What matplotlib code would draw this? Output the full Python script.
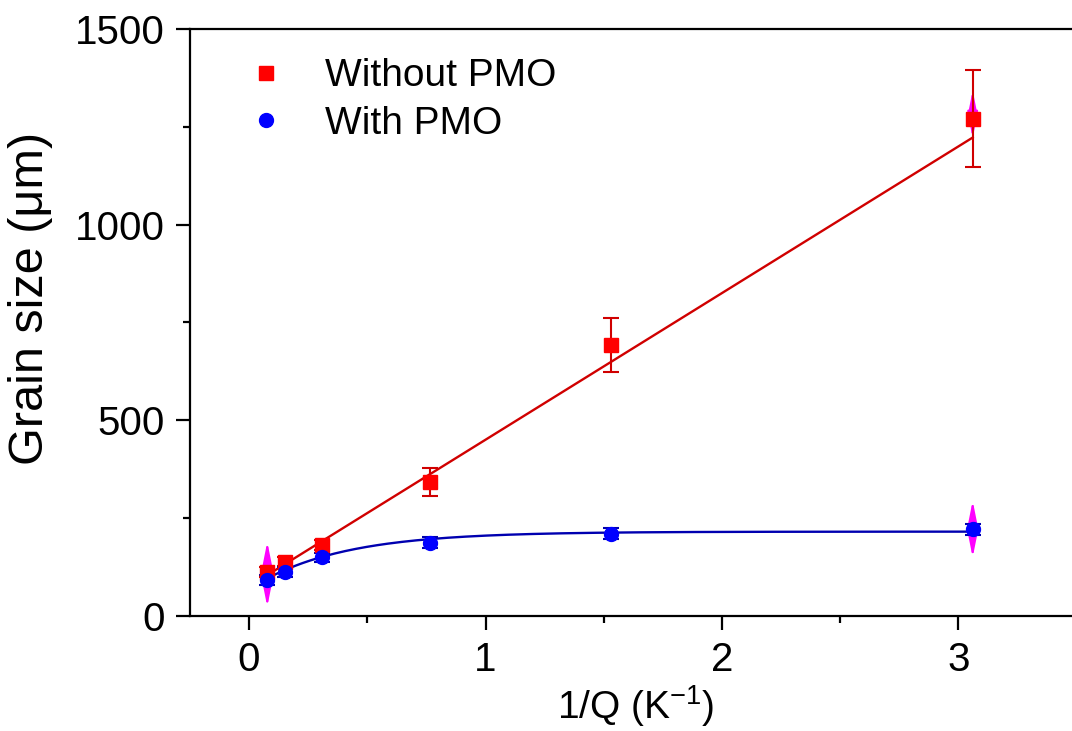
import numpy as np
import matplotlib
matplotlib.use("Agg")
import matplotlib.pyplot as plt
from matplotlib.ticker import MultipleLocator

plt.rcParams['font.family'] = ['Liberation Sans', 'DejaVu Sans']
plt.rcParams['mathtext.fontset'] = 'custom'
plt.rcParams['mathtext.rm'] = 'Liberation Sans'
plt.rcParams['mathtext.default'] = 'regular'

# data
inv_q = [0.077, 0.154, 0.307, 0.767, 1.53, 3.06]
without_pmo = [112, 138, 181, 342, 692, 1271]
without_err = [12, 12, 12, 35, 70, 125]
with_pmo = [91, 112, 149, 186, 209, 221]
with_err = [12, 12, 12, 14, 14, 14]

# fitted curves
lin_intercept, lin_slope = 75, 375
exp_a, exp_b, exp_t = 215, 147, 0.375

# double arrows (x, y_low, y_high)
arrow_x = [0.077, 3.06, 3.06]
arrow_lo = [23, 1221, 149]
arrow_hi = [189, 1343, 294]

fig = plt.figure(figsize=(10.72, 7.31), dpi=100)
ax = fig.add_axes([0.1772, 0.1577, 0.8228, 0.8026])

xf = np.linspace(inv_q[0], inv_q[-1], 200)
ax.plot(xf, lin_intercept + lin_slope * xf, color='#d00000', lw=1.7, zorder=2)
ax.plot(xf, exp_a - exp_b * np.exp(-xf / exp_t), color='#0000b0', lw=1.7, zorder=2)

for x, lo, hi in zip(arrow_x, arrow_lo, arrow_hi):
    ax.annotate('', xy=(x, hi), xytext=(x, lo),
                arrowprops=dict(arrowstyle='<|-|>,head_length=0.8,head_width=0.16',
                                color='#ff00ff', lw=1.5,
                                mutation_scale=20, shrinkA=0, shrinkB=0),
                zorder=1)

ax.errorbar(inv_q, without_pmo, yerr=without_err, fmt='s', color='#ff0000',
            ecolor='#d00000', elinewidth=1.5, capsize=6, capthick=1.5,
            markersize=10, mec='#ff0000', zorder=3, label='Without PMO')
ax.errorbar(inv_q, with_pmo, yerr=with_err, fmt='o', color='#0000ff',
            ecolor='#0000b0', elinewidth=1.5, capsize=6, capthick=1.5,
            markersize=10, mec='#0000ff', zorder=3, label='With PMO')

ax.set_xlim(-0.25, 3.48)
ax.set_ylim(0, 1500)
ax.xaxis.set_major_locator(MultipleLocator(1))
ax.xaxis.set_minor_locator(MultipleLocator(0.5))
ax.yaxis.set_major_locator(MultipleLocator(500))
ax.yaxis.set_minor_locator(MultipleLocator(250))

ax.spines['right'].set_visible(False)
for s in ['left', 'bottom', 'top']:
    ax.spines[s].set_linewidth(1.6)
ax.tick_params(which='major', direction='out', length=10, width=1.6,
               labelsize=29, pad=8)
ax.tick_params(which='minor', direction='out', length=5, width=1.6)
ax.tick_params(top=False, which='both')

ax.set_xlabel('1/Q (K$^{-1}$)', fontsize=28)
ax.xaxis.set_label_coords(0.505, -0.115)
ax.set_ylabel('Grain size (\u03bcm)', fontsize=35)
ax.yaxis.set_label_coords(-0.155, 0.54)

h, l = ax.get_legend_handles_labels()
h = [hh[0] for hh in h]
ax.legend(h, l, loc='upper left', bbox_to_anchor=(0.025, 1.01), frameon=False,
          fontsize=28, handlelength=1.0, handletextpad=1.0, labelspacing=0.3,
          markerscale=1.0)

fig.savefig('out.png', dpi=100)
